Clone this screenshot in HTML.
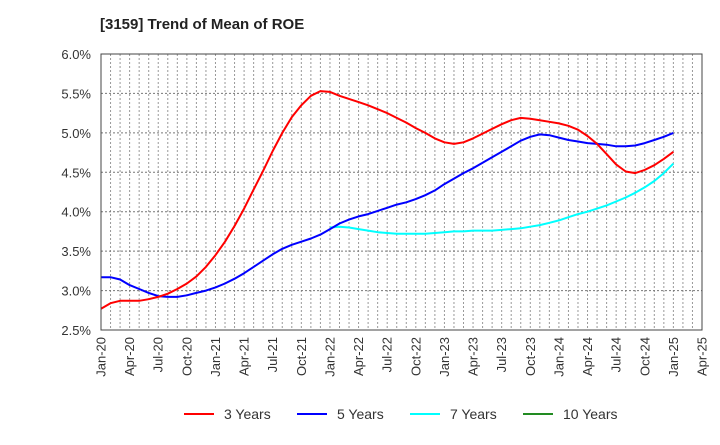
<!DOCTYPE html>
<html><head><meta charset="utf-8"><style>
body{margin:0;background:#fff;}
svg text{font-family:"Liberation Sans",Arial,sans-serif;}
</style></head><body>
<svg id="chart" width="720" height="440" xmlns="http://www.w3.org/2000/svg">
<text x="100" y="29" font-size="15" font-weight="bold" fill="#222">[3159]  Trend of Mean of ROE</text>
<g id="grid"></g>
<g id="yticks"></g>
<g id="xticks"></g>
<g id="series"></g>
<rect x="101" y="54" width="601" height="276" fill="none" stroke="#444" stroke-width="1"/>
<g>
<g><line x1="184" y1="414" x2="214" y2="414" stroke="#f00" stroke-width="2"/><text x="224" y="419" font-size="14" fill="#333">3 Years</text></g>
<g><line x1="297" y1="414" x2="327" y2="414" stroke="#00f" stroke-width="2"/><text x="337" y="419" font-size="14" fill="#333">5 Years</text></g>
<g><line x1="410" y1="414" x2="440" y2="414" stroke="#0ff" stroke-width="2"/><text x="450" y="419" font-size="14" fill="#333">7 Years</text></g>
<g><line x1="523" y1="414" x2="553" y2="414" stroke="#228b22" stroke-width="2"/><text x="563" y="419" font-size="14" fill="#333">10 Years</text></g>
</g>
</svg>
<script>
const xTickLabels=["Jan-20","Apr-20","Jul-20","Oct-20","Jan-21","Apr-21","Jul-21","Oct-21","Jan-22","Apr-22","Jul-22","Oct-22","Jan-23","Apr-23","Jul-23","Oct-23","Jan-24","Apr-24","Jul-24","Oct-24","Jan-25","Apr-25"];
const yTickValues=[2.5,3.0,3.5,4.0,4.5,5.0,5.5,6.0];
// monthly values starting Jan-20
const red3=[2.77,2.84,2.87,2.87,2.87,2.89,2.92,2.96,3.02,3.09,3.18,3.30,3.45,3.62,3.82,4.04,4.28,4.52,4.77,5.00,5.20,5.35,5.47,5.53,5.52,5.47,5.43,5.39,5.35,5.30,5.25,5.19,5.13,5.06,5.00,4.93,4.88,4.86,4.88,4.93,4.99,5.05,5.11,5.16,5.19,5.18,5.16,5.14,5.12,5.09,5.04,4.96,4.86,4.73,4.60,4.51,4.49,4.53,4.59,4.67,4.76];
const blue5=[3.17,3.17,3.14,3.07,3.02,2.97,2.93,2.92,2.92,2.94,2.97,3.00,3.04,3.09,3.15,3.22,3.30,3.38,3.46,3.53,3.58,3.62,3.66,3.71,3.78,3.85,3.90,3.94,3.97,4.01,4.05,4.09,4.12,4.16,4.21,4.27,4.35,4.42,4.49,4.55,4.62,4.69,4.76,4.83,4.90,4.95,4.98,4.97,4.94,4.91,4.89,4.87,4.86,4.85,4.83,4.83,4.84,4.87,4.91,4.95,5.00];
const cyan7Start=24;
const cyan7=[3.80,3.81,3.80,3.78,3.76,3.74,3.73,3.72,3.72,3.72,3.72,3.73,3.74,3.75,3.75,3.76,3.76,3.76,3.77,3.78,3.79,3.81,3.83,3.86,3.89,3.93,3.97,4.00,4.04,4.08,4.13,4.18,4.24,4.31,4.39,4.49,4.61];
const green10=[];
const NS="http://www.w3.org/2000/svg";
const L=101,R=702,T=54,B=330,NM=63;
const xs=m=>L+(R-L)*m/NM;
const ys=v=>B-(B-T)*(v-2.5)/3.5;
const grid=document.getElementById('grid');
for(let m=1;m<NM;m++){const l=document.createElementNS(NS,'line');


l.setAttribute('x1',xs(m));l.setAttribute('x2',xs(m));l.setAttribute('y1',T);l.setAttribute('y2',B);l.setAttribute('stroke','#999');l.setAttribute('stroke-dasharray','2,2');grid.appendChild(l);}
const yt=document.getElementById('yticks');
yTickValues.forEach(v=>{
if(v>2.5&&v<6){const l=document.createElementNS(NS,'line');


l.setAttribute('x1',L);l.setAttribute('x2',R);l.setAttribute('y1',ys(v));l.setAttribute('y2',ys(v));l.setAttribute('stroke','#777');l.setAttribute('stroke-dasharray','2,2');grid.appendChild(l);}
const t=document.createElementNS(NS,'text');


t.setAttribute('x',91);t.setAttribute('y',ys(v)+5);t.setAttribute('text-anchor','end');t.setAttribute('font-size','13');t.setAttribute('fill','#333');t.textContent=v.toFixed(1)+'%';yt.appendChild(t);});
const xt=document.getElementById('xticks');
xTickLabels.forEach((s,i)=>{const x=xs(i*3);const t=document.createElementNS(NS,'text');


t.setAttribute('transform','translate('+(x+4.5)+',337) rotate(-90)');t.setAttribute('text-anchor','end');t.setAttribute('font-size','13');t.setAttribute('fill','#333');t.textContent=s;xt.appendChild(t);});
const sg=document.getElementById('series');
function draw(arr,start,color,name){if(!arr.length)return;const p=document.createElementNS(NS,'polyline');


p.setAttribute('points',arr.map((v,i)=>xs(start+i).toFixed(1)+','+ys(v).toFixed(1)).join(' '));p.setAttribute('fill','none');p.setAttribute('stroke',color);p.setAttribute('stroke-width','2');p.setAttribute('stroke-linejoin','round');sg.appendChild(p);}
draw(cyan7,cyan7Start,'#0ff','line-7-years');
draw(blue5,0,'#00f','line-5-years');
draw(red3,0,'#f00','line-3-years');
draw(green10,0,'#228b22','line-10-years');
</script>
</body></html>
